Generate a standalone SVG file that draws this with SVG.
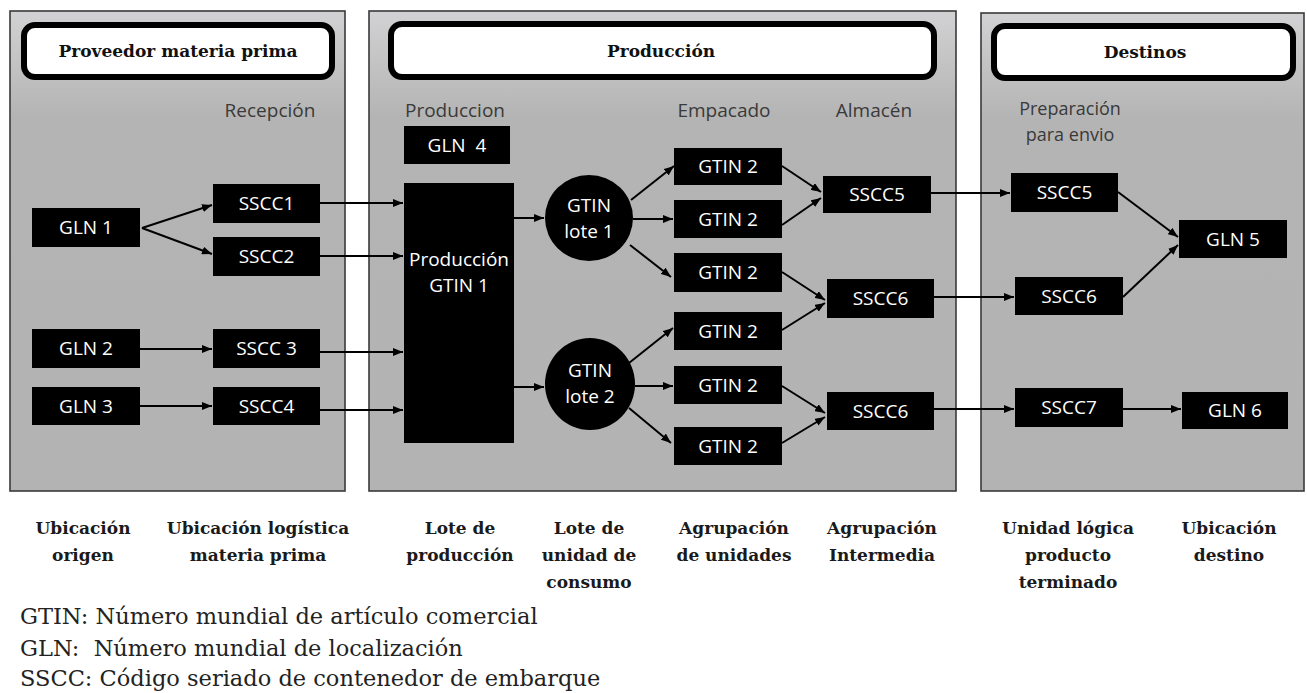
<svg xmlns="http://www.w3.org/2000/svg" width="1307" height="693" viewBox="0 0 1307 693">
<defs>
<linearGradient id="pg" x1="0" y1="0" x2="0" y2="1">
<stop offset="0" stop-color="#d2d2d4"/>
<stop offset="0.22" stop-color="#b4b4b4"/>
<stop offset="1" stop-color="#b3b3b3"/>
</linearGradient>
<marker id="ah" markerUnits="userSpaceOnUse" markerWidth="10" markerHeight="8" refX="10" refY="4" orient="auto">
<path d="M0,0 L10,4 L0,8 z" fill="#000"/>
</marker>
<style>
.panel{fill:url(#pg);stroke:#3a3a3a;stroke-width:1.6}
.title{fill:#fff;stroke:#000;stroke-width:6}
.ttxt{font-family:"DejaVu Serif","Liberation Serif",serif;font-weight:bold;font-size:17px;fill:#111;text-anchor:middle}
.box{fill:#000}
.btxt{font-family:"Open Sans","Liberation Sans",sans-serif;font-size:19px;fill:#fff;text-anchor:middle}
.stage{font-family:"Open Sans","Liberation Sans",sans-serif;font-size:19px;fill:#3a3a3a;text-anchor:middle}
.stage2{font-family:"Open Sans","Liberation Sans",sans-serif;font-size:18px;fill:#3a3a3a;text-anchor:middle}
.cap{font-family:"DejaVu Serif","Liberation Serif",serif;font-weight:bold;font-size:17px;fill:#1a1a1a;text-anchor:middle}
.leg{font-family:"DejaVu Serif","Liberation Serif",serif;font-size:22.5px;fill:#222}
.edge{stroke:#000;stroke-width:2;fill:none;marker-end:url(#ah)}
</style>
</defs>
<rect width="1307" height="693" fill="#fff"/>

<g id="panel-proveedor">
<rect class="panel" x="10" y="11" width="335" height="480"/>
<rect class="title" x="24" y="25" width="308" height="52" rx="11"/>
<text class="ttxt" x="178" y="57">Proveedor materia prima</text>
<text class="stage" x="270" y="117">Recepción</text>
</g>
<g id="panel-produccion">
<rect class="panel" x="369" y="11" width="587" height="480"/>
<rect class="title" x="391" y="24" width="543" height="53" rx="11"/>
<text class="ttxt" x="661" y="57">Producción</text>
<text class="stage" x="455" y="117">Produccion</text>
<text class="stage" x="724" y="117">Empacado</text>
<text class="stage" x="874" y="117">Almacén</text>
</g>
<g id="panel-destinos">
<rect class="panel" x="981" y="13" width="323" height="478"/>
<rect class="title" x="994" y="26" width="299" height="52" rx="11"/>
<text class="ttxt" x="1145" y="58">Destinos</text>
<text class="stage2" x="1070" y="115">Preparación</text>
<text class="stage2" x="1070" y="141">para envio</text>
</g>

<g id="connectors">
<path class="edge" d="M142,228 L212,205"/>
<path class="edge" d="M142,228 L212,254"/>
<path class="edge" d="M140,349 L212,349"/>
<path class="edge" d="M140,406 L212,406"/>
<path class="edge" d="M320,203 L403,203"/>
<path class="edge" d="M320,256 L403,256"/>
<path class="edge" d="M320,352 L403,352"/>
<path class="edge" d="M320,410 L403,410"/>
<path class="edge" d="M514,218 L544,218"/>
<path class="edge" d="M514,387 L544,387"/>
<path class="edge" d="M631,200 L674,166"/>
<path class="edge" d="M633,219 L673,219"/>
<path class="edge" d="M630,245 L671,277"/>
<path class="edge" d="M629,363 L673,328"/>
<path class="edge" d="M635,386 L673,386"/>
<path class="edge" d="M629,408 L671,443"/>
<path class="edge" d="M782,166 L821,192"/>
<path class="edge" d="M782,225 L821,198"/>
<path class="edge" d="M782,272 L825,300"/>
<path class="edge" d="M782,330 L825,303"/>
<path class="edge" d="M782,386 L825,413"/>
<path class="edge" d="M782,443 L825,417"/>
<path class="edge" d="M931,193 L1010,193"/>
<path class="edge" d="M934,297 L1014,297"/>
<path class="edge" d="M934,409 L1014,409"/>
<path class="edge" d="M1118,192 L1178,237"/>
<path class="edge" d="M1123,297 L1178,245"/>
<path class="edge" d="M1123,409 L1181,409"/>
</g>

<g id="gln1"><rect class="box" x="32" y="208" width="108" height="39"/><text class="btxt" x="86" y="234">GLN 1</text></g>
<g id="gln2"><rect class="box" x="32" y="329" width="108" height="39"/><text class="btxt" x="86" y="355">GLN 2</text></g>
<g id="gln3"><rect class="box" x="32" y="387" width="108" height="38"/><text class="btxt" x="86" y="413">GLN 3</text></g>
<g id="sscc1"><rect class="box" x="213" y="184" width="107" height="39"/><text class="btxt" x="266.5" y="210">SSCC1</text></g>
<g id="sscc2"><rect class="box" x="213" y="237" width="107" height="39"/><text class="btxt" x="266.5" y="263">SSCC2</text></g>
<g id="sscc3"><rect class="box" x="213" y="329" width="107" height="39"/><text class="btxt" x="266.5" y="355">SSCC 3</text></g>
<g id="sscc4"><rect class="box" x="213" y="387" width="107" height="38"/><text class="btxt" x="266.5" y="413">SSCC4</text></g>

<g id="gln4"><rect class="box" x="404" y="126" width="106" height="38"/><text class="btxt" x="457" y="152" xml:space="preserve">GLN  4</text></g>
<g id="produccion-gtin1"><rect class="box" x="404" y="183" width="110" height="260"/><text class="btxt" x="459" y="266">Producción</text><text class="btxt" x="459" y="292">GTIN 1</text></g>
<g id="lote1"><ellipse class="box" cx="589" cy="218" rx="44" ry="43"/><text class="btxt" x="589" y="212">GTIN</text><text class="btxt" x="589" y="238">lote 1</text></g>
<g id="lote2"><ellipse class="box" cx="590" cy="384" rx="45" ry="46"/><text class="btxt" x="590" y="377">GTIN</text><text class="btxt" x="590" y="403">lote 2</text></g>
<g id="gtin2-a"><rect class="box" x="674" y="148" width="108" height="37"/><text class="btxt" x="728" y="173">GTIN 2</text></g>
<g id="gtin2-b"><rect class="box" x="674" y="200" width="108" height="38"/><text class="btxt" x="728" y="226">GTIN 2</text></g>
<g id="gtin2-c"><rect class="box" x="674" y="253" width="108" height="39"/><text class="btxt" x="728" y="279">GTIN 2</text></g>
<g id="gtin2-d"><rect class="box" x="674" y="312" width="108" height="38"/><text class="btxt" x="728" y="338">GTIN 2</text></g>
<g id="gtin2-e"><rect class="box" x="674" y="366" width="108" height="38"/><text class="btxt" x="728" y="392">GTIN 2</text></g>
<g id="gtin2-f"><rect class="box" x="674" y="427" width="108" height="38"/><text class="btxt" x="728" y="453">GTIN 2</text></g>
<g id="sscc5-alm"><rect class="box" x="823" y="176" width="108" height="37"/><text class="btxt" x="877" y="201">SSCC5</text></g>
<g id="sscc6-alm-a"><rect class="box" x="827" y="279" width="107" height="39"/><text class="btxt" x="880.5" y="305">SSCC6</text></g>
<g id="sscc6-alm-b"><rect class="box" x="827" y="392" width="107" height="38"/><text class="btxt" x="880.5" y="418">SSCC6</text></g>

<g id="sscc5-dest"><rect class="box" x="1011" y="173" width="107" height="39"/><text class="btxt" x="1064.5" y="199">SSCC5</text></g>
<g id="sscc6-dest"><rect class="box" x="1015" y="277" width="108" height="38"/><text class="btxt" x="1069" y="303">SSCC6</text></g>
<g id="sscc7"><rect class="box" x="1015" y="388" width="108" height="39"/><text class="btxt" x="1069" y="414">SSCC7</text></g>
<g id="gln5"><rect class="box" x="1179" y="220" width="108" height="38"/><text class="btxt" x="1233" y="246">GLN 5</text></g>
<g id="gln6"><rect class="box" x="1182" y="392" width="106" height="37"/><text class="btxt" x="1235" y="417">GLN 6</text></g>

<g id="captions">
<text class="cap" x="83" y="534">Ubicación</text><text class="cap" x="83" y="561">origen</text>
<text class="cap" x="258" y="534">Ubicación logística</text><text class="cap" x="258" y="561">materia prima</text>
<text class="cap" x="460" y="534">Lote de</text><text class="cap" x="460" y="561">producción</text>
<text class="cap" x="589" y="534">Lote de</text><text class="cap" x="589" y="561">unidad de</text><text class="cap" x="589" y="588">consumo</text>
<text class="cap" x="734" y="534">Agrupación</text><text class="cap" x="734" y="561">de unidades</text>
<text class="cap" x="882" y="534">Agrupación</text><text class="cap" x="882" y="561">Intermedia</text>
<text class="cap" x="1068" y="534">Unidad lógica</text><text class="cap" x="1068" y="561">producto</text><text class="cap" x="1068" y="588">terminado</text>
<text class="cap" x="1229" y="534">Ubicación</text><text class="cap" x="1229" y="561">destino</text>
</g>
<g id="legend">
<text class="leg" x="20" y="624">GTIN: Número mundial de artículo comercial</text>
<text class="leg" x="20" y="656" xml:space="preserve">GLN:  Número mundial de localización</text>
<text class="leg" x="20" y="686">SSCC: Código seriado de contenedor de embarque</text>
</g>
</svg>
